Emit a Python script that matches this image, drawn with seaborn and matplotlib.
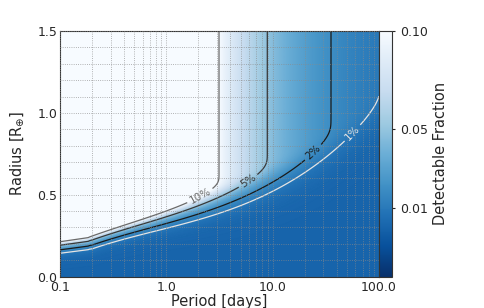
import numpy as np
import matplotlib
matplotlib.use("Agg")
import matplotlib.pyplot as plt
import seaborn as sns
from matplotlib.colors import Normalize
from matplotlib.ticker import FixedLocator, LogLocator, NullFormatter, MultipleLocator

# ---- values ----
knot_period = [0.1, 0.185, 0.205, 0.5, 0.95, 2.07, 5.0, 9.5, 23.0, 60.0, 100.0]
plateau_fraction = [0.98, 0.652, 0.61, 0.337, 0.2205, 0.1315, 0.0733, 0.0479, 0.0266, 0.0141, 0.0102]
threshold_radius = [0.28, 0.294, 0.312, 0.366, 0.405, 0.481, 0.56, 0.598, 0.725, 0.86, 0.99]
transition_width = [0.030, 0.031, 0.032, 0.037, 0.043, 0.047, 0.055, 0.065, 0.080, 0.085, 0.090]
step_period = 0.195  # small step seen in the contours near P = 0.2 d

contour_levels = [0.01, 0.02, 0.05, 0.10]
contour_names = ["1%", "2%", "5%", "10%"]
contour_colors = ["#e4e4e4", "#1a1a1a", "#383838", "#6a6a6a"]
label_period = [59.0, 24.0, 5.8, 2.05]
label_radius = [0.865, 0.76, 0.59, 0.50]

xtick_values = [0.1, 1.0, 10.0, 100.0]
xtick_labels = ["0.1", "1.0", "10.0", "100.0"]
ytick_values = [0.0, 0.5, 1.0, 1.5]
ytick_labels = ["0.0", "0.5", "1.0", "1.5"]
cbar_ticks = [0.01, 0.05, 0.10]
cbar_labels = ["0.01", "0.05", "0.10"]

# ---- build the field from the read knots ----
period = np.logspace(-1, 2, 600)
radius = np.linspace(0, 1.5, 450)
lp = np.log10(period)
lk = np.log10(knot_period)
kr = np.array(threshold_radius)
kw = np.array(transition_width)
hi = np.array(knot_period) > step_period

def smooth_curve(vals):
    out = np.interp(lp, lk, vals)
    coef = np.polyfit(lk[hi], vals[hi], 3)
    upper = lp > np.log10(step_period)
    out[upper] = np.polyval(coef, lp[upper])
    ramp = (lp > np.log10(0.188)) & (lp <= np.log10(0.202))
    a = np.polyval(coef, np.log10(0.202))
    b = np.interp(np.log10(0.188), lk, vals)
    t = (lp[ramp] - np.log10(0.188)) / (np.log10(0.202) - np.log10(0.188))
    out[ramp] = b + t * (a - b)
    return out

plat = 10 ** np.interp(lp, lk, np.log10(plateau_fraction))
rc = smooth_curve(kr)
wd = smooth_curve(kw)
z = np.clip((radius[:, None] - rc[None, :]) / wd[None, :], -30, 5)
S = 1.0 - np.exp(-np.exp(z))
frac = plat[None, :] * S

sns.set_style("ticks")
plt.rcParams["font.family"] = ["DejaVu Sans"]

fig = plt.figure(figsize=(4.84, 3.08), dpi=100)
ax = fig.add_axes([0.124, 0.102, 0.659, 0.797])
cax = fig.add_axes([0.783, 0.102, 0.027, 0.797])

ax.set_xscale("log")
ax.set_xlim(0.1, 100)
ax.set_ylim(0, 1.5)

cmap = sns.color_palette("Blues_r", as_cmap=True)
norm = Normalize(vmin=-0.025, vmax=0.10)
mesh = ax.pcolormesh(period, radius, frac, cmap=cmap, norm=norm, shading="gouraud", rasterized=True)

cs = ax.contour(period, radius, frac, levels=contour_levels, colors=contour_colors, linewidths=0.9)
fmt = {lev: name for lev, name in zip(contour_levels, contour_names)}
ax.clabel(cs, fmt=fmt, fontsize=7.5, inline=True, inline_spacing=3,
          manual=list(zip(label_period, label_radius)))

ax.set_xlim(0.1, 100)
ax.set_ylim(0, 1.5)
ax.xaxis.set_major_locator(FixedLocator(xtick_values))
ax.set_xticklabels(xtick_labels)
ax.xaxis.set_minor_locator(LogLocator(base=10, subs=np.arange(2, 10)))
ax.xaxis.set_minor_formatter(NullFormatter())
ax.yaxis.set_major_locator(FixedLocator(ytick_values))
ax.set_yticklabels(ytick_labels)
ax.yaxis.set_minor_locator(MultipleLocator(0.1))
ax.grid(which="both", axis="both", color="#8a8a8a", linestyle=":", linewidth=0.6, alpha=0.85)
ax.set_axisbelow(False)
ax.tick_params(which="both", length=0, labelsize=9)
ax.tick_params(axis="x", pad=3)
ax.tick_params(axis="y", pad=2)
ax.set_xlabel("Period [days]", fontsize=10.5, labelpad=0)
ax.set_ylabel(r"Radius [R$_{\oplus}$]", fontsize=10.5, labelpad=8)
for s in ax.spines.values():
    s.set_color("#333333")
    s.set_linewidth(0.8)

cb = fig.colorbar(mesh, cax=cax, ticks=cbar_ticks)
cb.ax.set_yticklabels(cbar_labels)
cb.ax.tick_params(labelsize=9, length=2)
cb.set_label("Detectable Fraction", fontsize=10.5, labelpad=4)
cb.outline.set_edgecolor("#333333")
cb.outline.set_linewidth(0.8)

fig.savefig("out.png", dpi=100)
